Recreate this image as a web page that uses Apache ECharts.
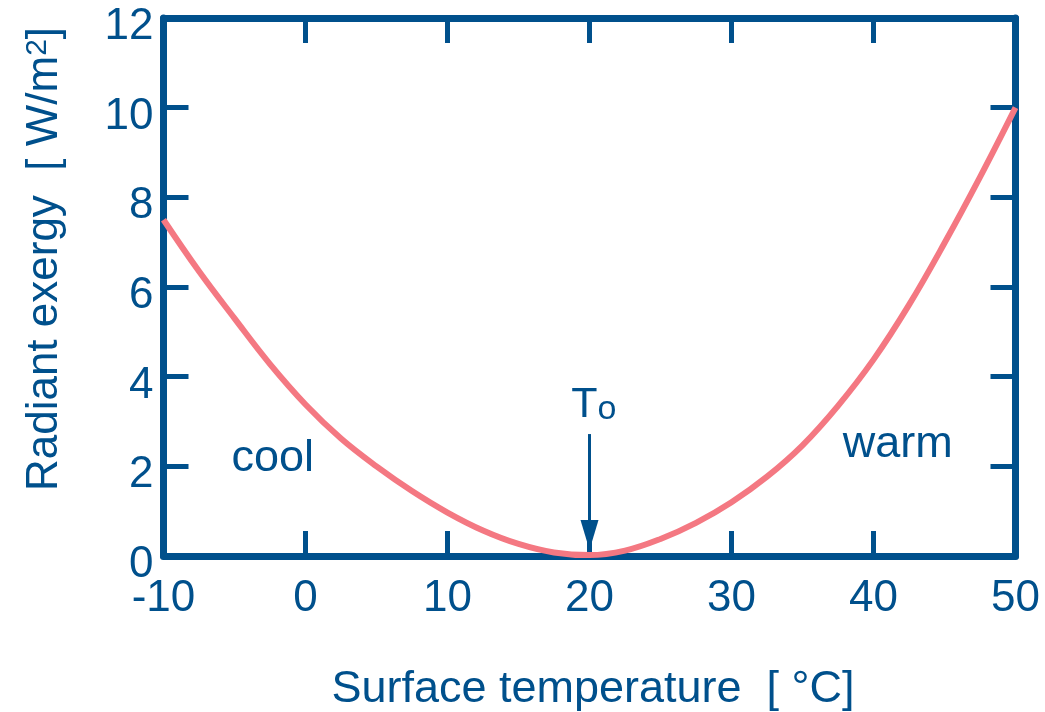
<!DOCTYPE html>
<html>
<head>
<meta charset="utf-8">
<script src="https://cdn.jsdelivr.net/npm/echarts@6/dist/echarts.min.js"></script>
<style>
 html, body { margin: 0; padding: 0; background: #fff; }
 #container { width: 1045px; height: 712px; }
</style>
</head>
<body>
<div id="container"></div>
<script>
// surface temperature [°C] and radiant exergy [W/m2]
var temps = [-10, -7.5, -5, -2.5, 0, 2.5, 5, 7.5, 10, 12.5, 15, 17.5, 20,
             22.5, 25, 27.5, 30, 32.5, 35, 37.5, 40, 42.5, 45, 47.5, 50];
var exergy = [7.5, 6.35, 5.3, 4.28, 3.38, 2.62, 2.0, 1.45, 0.97, 0.57, 0.27, 0.08, 0.02,
              0.12, 0.38, 0.74, 1.2, 1.77, 2.47, 3.35, 4.38, 5.6, 6.98, 8.45, 10.0];

var xTicks = [-10, 0, 10, 20, 30, 40, 50];
var yTicks = [0, 2, 4, 6, 8, 10, 12];

// text annotations: [label, x, y]
var notes = [['cool', -2.3, 2.18], ['warm', 41.7, 2.48]];
var t0 = 20;
var arrowFrom = 2.72, arrowTo = 0.47;

var dom = document.getElementById("container");
var myChart = echarts.init(dom);

var blue = '#00508C';
var font = 'Liberation Sans, Arial, Helvetica, sans-serif';

var lineData = temps.map(function (t, i) {
    return [t, exergy[i]];
});

function frameAxis(pos, min, max, step) {
    return {
        type: 'value',
        position: pos,
        min: min,
        max: max,
        interval: step,
        axisLine: { show: true, onZero: false, lineStyle: { color: blue, width: 7 } },
        axisTick: { show: true, inside: true, length: 25, lineStyle: { color: blue, width: 5 } },
        splitLine: { show: false },
        axisLabel: { show: false }
    };
}

var xBottom = frameAxis('bottom', xTicks[0], xTicks[xTicks.length - 1], 10);
xBottom.axisLabel = { show: true, color: blue, fontFamily: font, fontSize: 44, margin: 21 };
xBottom.name = 'Surface temperature  [ °C]';
xBottom.nameLocation = 'middle';
xBottom.nameGap = 111;
xBottom.nameTextStyle = { color: blue, fontFamily: font, fontSize: 45, padding: [0, 0, 0, 7] };

var xTop = frameAxis('top', xTicks[0], xTicks[xTicks.length - 1], 10);

var yLeft = frameAxis('left', yTicks[0], yTicks[yTicks.length - 1], 2);
yLeft.axisLabel = { show: true, color: blue, fontFamily: font, fontSize: 44, margin: 10,
                    verticalAlign: 'top', lineHeight: 18 };
yLeft.name = 'Radiant exergy  [ W/m{sup|2}]';
yLeft.nameLocation = 'middle';
yLeft.nameGap = 97;
yLeft.nameTextStyle = {
    color: blue, fontFamily: font, fontSize: 44, padding: [0, 0, 0, 56],
    rich: { sup: { color: blue, fontFamily: font, fontSize: 30, verticalAlign: 'top', lineHeight: 44 } }
};

var yRight = frameAxis('right', yTicks[0], yTicks[yTicks.length - 1], 2);

var option = {
    backgroundColor: '#fff',
    animation: false,
    grid: { left: 163.5, right: 29.5, top: 18, bottom: 156, containLabel: false, outerBoundsMode: 'none' },
    xAxis: [xBottom, xTop],
    yAxis: [yLeft, yRight],
    series: [
        {
            type: 'line',
            data: lineData,
            smooth: 0.4,
            showSymbol: false,
            symbol: 'none',
            lineStyle: { color: '#F47882', width: 6 },
            z: 3,
            markPoint: {
                symbol: 'circle',
                symbolSize: 1,
                itemStyle: { color: 'rgba(0,0,0,0)' },
                label: {
                    show: true,
                    position: 'inside',
                    color: blue,
                    fontFamily: font,
                    fontSize: 45
                },
                data: notes.map(function (n) {
                    return { coord: [n[1], n[2]], value: n[0], label: { formatter: n[0] } };
                }).concat([{
                    coord: [t0 + 0.3, 3.36],
                    value: 'T',
                    label: {
                        formatter: '{t|T}{s|o}',
                        rich: {
                            t: { color: blue, fontFamily: font, fontSize: 43 },
                            s: { color: blue, fontFamily: font, fontSize: 34, verticalAlign: 'bottom', lineHeight: 30, padding: [26, 0, 0, 0] }
                        }
                    }
                }])
            },
            markLine: {
                silent: true,
                symbol: ['none', 'triangle'],
                symbolSize: [18, 30],
                label: { show: false },
                lineStyle: { color: blue, width: 3, type: 'solid' },
                data: [[{ coord: [t0, arrowFrom] }, { coord: [t0, arrowTo] }]]
            }
        }
    ]
};

myChart.setOption(option, true);
</script>
</body>
</html>
